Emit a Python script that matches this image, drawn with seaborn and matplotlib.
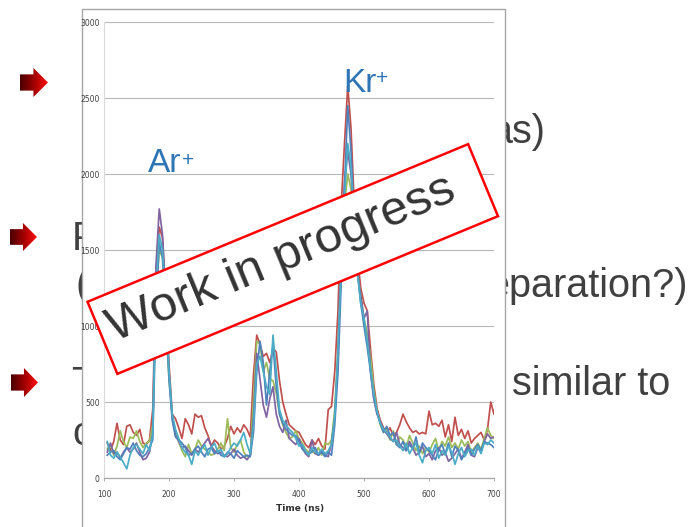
import numpy as np
import pandas as pd
import matplotlib
matplotlib.use("Agg")
import matplotlib.pyplot as plt
from matplotlib.patches import Rectangle, Polygon
from matplotlib.transforms import IdentityTransform, Bbox
from matplotlib.colors import LinearSegmentedColormap
import seaborn as sns

# ---- time-of-flight traces (counts vs. time, 5 ns bins) ----
time_ns = list(range(105, 701, 5))
run_names = ["Run 1", "Run 2", "Run 3", "Run 4", "Run 5"]
run_colors = ["#C0504D", "#9BBB59", "#8064A2", "#4F81BD", "#4BACC6"]

run1 = [230, 180, 240, 360, 250, 220, 340, 350, 300, 280, 320, 230, 220, 250,
        450, 1350, 1650, 1580, 1150, 750, 420, 390, 330,
        260, 390, 350, 290, 420, 400, 410, 330, 280, 210, 250, 230, 190, 210, 260, 340, 290, 330, 300, 350, 320, 270,
        680, 940, 880, 800, 820, 760, 850, 830, 640, 500, 420, 350, 330,
        310, 300, 260, 220, 200, 250, 220, 260, 210, 190, 450, 470,
        700, 1100, 1800, 2200, 2580, 2300, 1800, 1450, 1250, 1150, 1100, 850, 620, 460, 380, 330, 300,
        330, 280, 300, 350, 420, 370, 330, 300, 310, 290, 300, 290, 440, 350, 360, 340, 380, 270, 350, 240,
        400, 280, 320, 260, 310, 230, 260, 280, 300, 250, 320, 500, 420]
run2 = [190, 220, 150, 210, 310, 240, 200, 270, 260, 310, 240, 200, 230, 240,
        350, 1200, 1500, 1450, 1050, 650, 400, 300, 240,
        180, 140, 220, 160, 190, 250, 210, 190, 170, 150, 160, 190, 230, 180, 390, 200, 170, 220, 250, 170, 140, 150,
        520, 900, 880, 700, 760, 650, 640, 560, 420, 350, 300, 260, 270,
        310, 260, 230, 190, 170, 180, 160, 200, 150, 230, 220, 250,
        450, 850, 1400, 1800, 2000, 1900, 1650, 1350, 1200, 1050, 950, 800, 580, 440, 350, 300, 330,
        250, 310, 220, 270, 250, 200, 280, 230, 180, 210, 160, 200, 170, 220, 260, 180, 240, 210, 270, 200,
        230, 190, 250, 210, 240, 170, 200, 230, 190, 260, 330, 280, 260]
run3 = [170, 230, 160, 170, 130, 170, 200, 170, 190, 230, 170, 120, 130, 170,
        300, 1400, 1770, 1600, 1200, 700, 400, 280, 240,
        200, 210, 180, 150, 190, 170, 200, 230, 260, 210, 180, 160, 170, 150, 140, 160, 190, 150, 130, 140, 120, 150,
        400, 820, 650, 480, 400, 520, 600, 420, 340, 300, 380, 260, 240,
        220, 260, 200, 160, 140, 250, 160, 150, 180, 150, 140, 230,
        400, 800, 1500, 1950, 2150, 2000, 1650, 1350, 1200, 1050, 1100, 700, 520, 420, 370, 320, 290,
        260, 240, 300, 220, 200, 180, 240, 200, 150, 170, 210, 140, 160, 120, 180, 200, 150, 170, 110, 130,
        160, 190, 130, 170, 220, 150, 140, 200, 170, 240, 290, 260, 270]
run4 = [150, 170, 180, 140, 120, 160, 200, 190, 230, 180, 150, 140, 160, 200,
        250, 1100, 1550, 1450, 1100, 650, 380, 270, 250,
        230, 200, 150, 160, 190, 210, 170, 140, 190, 200, 160, 180, 150, 140, 170, 160, 130, 180, 160, 140, 150, 140,
        300, 700, 900, 760, 480, 700, 880, 600, 420, 360, 320, 300, 280,
        280, 240, 190, 170, 160, 170, 200, 150, 170, 140, 170, 150,
        350, 700, 1300, 1900, 2450, 2150, 1700, 1350, 1150, 1000, 860, 700, 530, 430, 360, 300, 340,
        280, 300, 220, 200, 240, 180, 220, 190, 270, 160, 230, 200, 180, 150, 120, 190, 220, 160, 230, 140,
        210, 180, 120, 160, 200, 150, 190, 220, 180, 240, 230, 220, 200]
run5 = [240, 150, 130, 170, 140, 100, 60, 150, 200, 220, 190, 160, 220, 180,
        280, 1250, 1600, 1500, 1150, 700, 420, 320, 260,
        200, 170, 150, 90, 180, 150, 190, 220, 150, 200, 230, 170, 190, 140, 160, 200, 230, 210, 250, 300, 220, 160,
        350, 750, 800, 700, 600, 550, 940, 700, 450, 380, 350, 320, 300,
        260, 210, 220, 180, 150, 200, 170, 160, 190, 160, 180, 220,
        400, 850, 1400, 1850, 2200, 2050, 1650, 1350, 1150, 1050, 900, 720, 560, 440, 360, 320, 300,
        270, 240, 250, 210, 180, 230, 160, 200, 230, 150, 100, 180, 200, 160, 220, 130, 180, 150, 210, 170,
        90, 160, 200, 140, 180, 190, 150, 210, 160, 230, 220, 250, 230]

x_ticks = [100, 200, 300, 400, 500, 600, 700]
y_ticks = [0, 500, 1000, 1500, 2000, 2500, 3000]

# ---- slide text (only the parts left and right of the picture show) ----
slide_fragments = [
    ("as)", 545, 143, "right"),
    ("F", 72, 250, "left"),
    ("(", 76, 297, "left"),
    ("eparation?)", 688, 297, "right"),
    ("T", 71, 395, "left"),
    ("similar to", 512, 395, "left"),
    ("c", 72, 445, "left"),
]

W, H = 691, 527
FRAME_L, FRAME_R, FRAME_T = 82, 505, 9
fig = plt.figure(figsize=(W / 100, H / 100), dpi=100)
fig.patch.set_facecolor("white")


def fx(px):
    return px / W


def fy(py):
    return 1 - py / H


left_clip = Bbox.from_extents(0, 0, FRAME_L, H)
right_clip = Bbox.from_extents(FRAME_R + 1, 0, W, H)
text_gray = "#404040"
for s, x, y, ha in slide_fragments:
    t = fig.text(fx(x), fy(y), s, fontsize=28.5, family="Liberation Sans",
                 color=text_gray, ha=ha, va="baseline", zorder=1)
    t.set_clip_box(left_clip if x < FRAME_L + 10 else right_clip)
    t.set_clip_on(True)

# bullet arrows with a dark-to-bright red gradient
arrow_cmap = LinearSegmentedColormap.from_list("bullet", ["#4a0000", "#a00000", "#ff1010"])
for (x0, y0, x1, y1) in [(20, 68, 48, 97), (10, 223, 37, 251), (11, 368, 38, 397)]:
    aax = fig.add_axes([fx(x0), fy(y1), (x1 - x0) / W, (y1 - y0) / H])
    aax.set_zorder(1)
    aax.axis("off")
    aax.set_xlim(0, 1)
    aax.set_ylim(0, 1)
    grad = np.linspace(0, 1, 64).reshape(1, -1)
    im = aax.imshow(grad, cmap=arrow_cmap, extent=[0, 1, 0, 1], aspect="auto")
    shape = Polygon([(0, 0.22), (0.48, 0.22), (0.48, 0.0), (1.0, 0.5),
                     (0.48, 1.0), (0.48, 0.78), (0, 0.78)],
                    closed=True, transform=aax.transAxes, fc="none", ec="none")
    aax.add_patch(shape)
    im.set_clip_path(shape)

# picture frame holding the chart
frame = Rectangle((fx(FRAME_L), fy(540)), (FRAME_R - FRAME_L) / W, (540 - FRAME_T) / H,
                  transform=fig.transFigure, fc="white", ec="#A6A6A6", lw=1.0, zorder=2)
fig.add_artist(frame)

# ---- chart ----
df = pd.DataFrame({
    "time": time_ns * len(run_names),
    "counts": run1 + run2 + run3 + run4 + run5,
    "run": sum([[n] * len(time_ns) for n in run_names], []),
})

ax = fig.add_axes([fx(104), fy(478), (494 - 104) / W, (478 - 22) / H])
ax.set_zorder(3)
ax.set_facecolor("white")
sns.lineplot(data=df, x="time", y="counts", hue="run", palette=run_colors,
             hue_order=run_names, ax=ax, legend=False, linewidth=1.25, errorbar=None)

ax.set_xlim(100, 700)
ax.set_ylim(0, 3000)
ax.set_xticks(x_ticks)
ax.set_yticks(y_ticks)
ax.set_xticklabels([str(v) for v in x_ticks])
ax.set_yticklabels([str(v) for v in y_ticks])
ax.grid(axis="y", color="#B8B8B8", lw=0.8)
ax.grid(axis="x", visible=False)
ax.set_axisbelow(True)
for side in ["top", "right"]:
    ax.spines[side].set_visible(False)
ax.spines["left"].set_color("#DADADA")
ax.spines["left"].set_linewidth(0.8)
ax.spines["bottom"].set_color("#A6A6A6")
ax.spines["bottom"].set_linewidth(0.9)

tick_font = ["Liberation Sans Narrow", "DejaVu Sans"]
ax.tick_params(axis="y", length=0, pad=3, labelsize=5.5, labelcolor="#404040")
ax.tick_params(axis="x", length=2.5, width=0.6, color="#A6A6A6", pad=6,
               labelsize=5.5, labelcolor="#404040")
for lab in ax.get_xticklabels() + ax.get_yticklabels():
    lab.set_family(tick_font)
ax.set_ylabel("")
ax.set_xlabel("Time (ns)", fontsize=6.5, fontweight="bold", family=tick_font,
              color="#303030")
ax.xaxis.set_label_coords((300 - 104) / 390, -(504 - 478) / 456)

# peak labels
peak_blue = "#2E75B6"
fig.text(fx(148), fy(172), "Ar", fontsize=24, family="Liberation Sans",
         color=peak_blue, va="baseline", ha="left", zorder=4)
fig.text(fx(182), fy(160), "+", fontsize=15, family="Liberation Sans",
         color=peak_blue, va="center", ha="left", zorder=4)
fig.text(fx(343), fy(92), "Kr", fontsize=24, family="Liberation Sans",
         color=peak_blue, va="baseline", ha="left", zorder=4)
fig.text(fx(376), fy(78), "+", fontsize=15, family="Liberation Sans",
         color=peak_blue, va="center", ha="left", zorder=4)

# rotated status banner
cx, cy = 292.75, H - 259
bw, bh, ang = 412, 78, 22.5
banner = Rectangle((cx - bw / 2, cy - bh / 2), bw, bh, angle=ang,
                   rotation_point="center", transform=IdentityTransform(),
                   fc="white", ec="#FF0000", lw=1.8, zorder=5)
fig.add_artist(banner)
fig.text(fx(286), fy(271), "Work in progress", fontsize=35.5, family="Liberation Sans",
         color="#333333", rotation=ang, rotation_mode="anchor",
         ha="center", va="baseline", zorder=6)

fig.savefig("out.png", dpi=100)
